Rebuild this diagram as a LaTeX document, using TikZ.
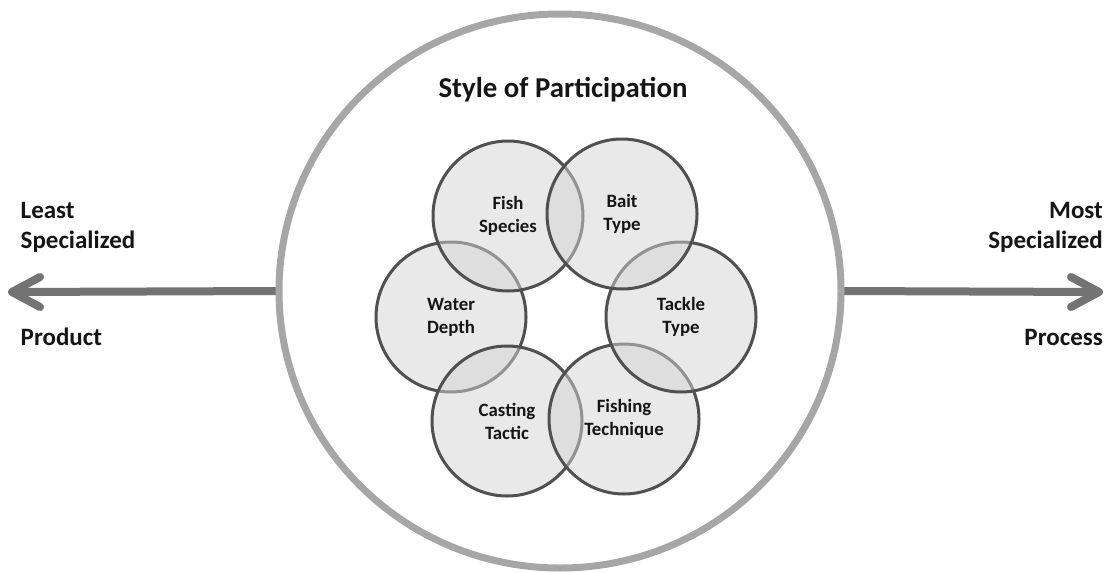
\documentclass[tikz,border=0pt]{standalone}
\usepackage{fontspec}
\setmainfont{Carlito}
\usetikzlibrary{shapes.geometric}

\definecolor{ringgray}{HTML}{A6A6A6}
\definecolor{arrowgray}{HTML}{737373}
\definecolor{petalline}{HTML}{505050}
\definecolor{petalfill}{HTML}{D4D4D4}
\definecolor{inktext}{HTML}{151515}

\begin{document}
\begin{tikzpicture}[x=1pt,y=-1pt,
  petal/.style={circle, draw=petalline, line width=3pt, fill=petalfill,
    fill opacity=0.5, text opacity=1, minimum size=150pt, inner sep=0pt,
    align=center, text=inktext,
    font=\fontsize{18.8}{23}\selectfont\bfseries},
  sidelabel/.style={inner sep=0pt, text=inktext,
    font=\fontsize{25}{30}\selectfont\bfseries},
  shaft/.style={draw=arrowgray, line width=8pt},
  chevron/.style={draw=arrowgray, line width=8pt, line cap=round, line join=round}]

  % canvas
  \useasboundingbox (0,0) rectangle (1106,573);
  \fill[white] (0,0) rectangle (1106,573);

  % outer ring (drawn as a node so the shafts can start on it)
  \node[ellipse, minimum width=562pt, minimum height=554pt, inner sep=0pt]
    (ring) at (560,291) {};

  % end points of the two arrows
  \coordinate (ltip) at (12,292);
  \coordinate (rtip) at (1099,292);

  % arrow shafts and open heads
  \draw[shaft] (ring.west) -- (ltip);
  \draw[shaft] (ring.east) -- (rtip);
  \draw[chevron] ([shift={(28,-15)}]ltip) -- (ltip) -- ([shift={(28,15)}]ltip);
  \draw[chevron] ([shift={(-28,-15)}]rtip) -- (rtip) -- ([shift={(-28,15)}]rtip);

  % ring outline over the shaft ends
  \draw[ringgray, line width=7pt] (ring.center) ellipse [x radius=281, y radius=277];

  % title
  \node[inner sep=0pt, text=inktext, font=\fontsize{28.8}{32}\selectfont\bfseries,
    anchor=base] (title) at (563,97) {Style of Participation};

  % six overlapping circles, bottom layer first
  \node[petal] (water)   at (451,317) {Water\\Depth};
  \node[petal] (fish)    at (508,216) {Fish\\Species};
  \node[petal] (casting) at (507,421) {Casting\\Tactic};
  \node[petal] (fishing) at (624,419) {Fishing\\Technique};
  \node[petal] (tackle)  at (681,317) {Tackle\\Type};
  \node[petal] (bait)    at (622,214) {Bait\\Type};

  % side labels (base anchor sits on the last line)
  \node[sidelabel, align=left, anchor=base west] (least) at (20.5,248.3) {Least\\Specialized};
  \node[sidelabel, anchor=base west] (product) at (20.5,345) {Product};
  \node[sidelabel, align=right, anchor=base east] (most) at (1103,248.3) {Most\\Specialized};
  \node[sidelabel, anchor=base east] (process) at (1103,345) {Process};
\end{tikzpicture}
\end{document}
